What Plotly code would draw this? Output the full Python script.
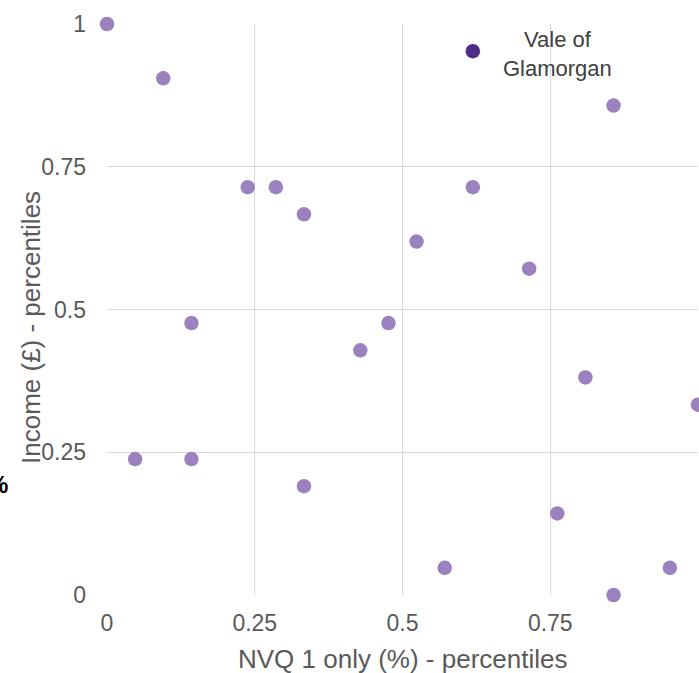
import plotly.graph_objects as go

# Percentile ranks of the 22 local authorities
nvq1_pct = [0.0, 0.0952, 0.2381, 0.2857, 0.3333, 0.1429, 0.0476, 0.1429, 0.3333,
            0.4286, 0.4762, 0.5238, 0.6190, 0.5714, 0.7143, 0.7619, 0.8095,
            0.8571, 0.8571, 0.9524, 1.0]
income_pct = [1.0, 0.9048, 0.7143, 0.7143, 0.6667, 0.4762, 0.2381, 0.2381, 0.1905,
              0.4286, 0.4762, 0.6190, 0.7143, 0.0476, 0.5714, 0.1429, 0.3810,
              0.8571, 0.0, 0.0476, 0.3333]

highlight_name = "Vale of<br>Glamorgan"
highlight_x = [0.6190]
highlight_y = [0.9524]

tick_vals = [0, 0.25, 0.5, 0.75, 1]
tick_text = ["0", "0.25", "0.5", "0.75", "1"]

x_title = "NVQ 1 only (%) - percentiles"
y_title = "Income (£) - percentiles"

FONT = "Arial, Liberation Sans, sans-serif"
PLOT_L, PLOT_W, PLOT_B, PLOT_H = 107, 591, 595, 571

fig = go.Figure()
fig.add_trace(go.Scatter(
    x=nvq1_pct, y=income_pct, mode="markers",
    marker=dict(size=14.5, color="#9a82bf"),
    cliponaxis=False, showlegend=False, hoverinfo="skip"))
fig.add_trace(go.Scatter(
    x=highlight_x, y=highlight_y, mode="markers",
    marker=dict(size=14.5, color="#4e2c89"),
    cliponaxis=False, showlegend=False, hoverinfo="skip"))

axis_common = dict(
    range=[0, 1], tickvals=tick_vals, ticktext=tick_text,
    showgrid=True, gridcolor="#d9d9d9", gridwidth=1.4,
    zeroline=False, showline=False, ticks="",
    tickfont=dict(family=FONT, size=23, color="#595959"),
)

annotations = [
    # label of the highlighted authority, centred block to the right of its marker
    dict(text=highlight_name, x=highlight_x[0], y=highlight_y[0], xref="x", yref="y",
         xanchor="left", yanchor="middle", align="center", showarrow=False,
         xshift=28, yshift=-3,
         font=dict(family=FONT, size=22, color="#404040")),
    # axis titles
    dict(text=x_title, xref="paper", yref="paper", x=0.5,
         y=(PLOT_B - 659) / PLOT_H, xanchor="center", yanchor="middle",
         showarrow=False, font=dict(family=FONT, size=26, color="#595959")),
    dict(text=y_title, xref="paper", yref="paper", x=(31 - PLOT_L) / PLOT_W,
         y=(PLOT_B - 328) / PLOT_H, xanchor="center", yanchor="middle",
         textangle=-90, showarrow=False,
         font=dict(family=FONT, size=26, color="#595959")),
    dict(text="<b>%</b>", xref="paper", yref="paper", x=(10 - PLOT_L) / PLOT_W,
         y=(PLOT_B - 484) / PLOT_H, xanchor="right", yanchor="middle",
         showarrow=False, font=dict(family=FONT, size=24, color="#000000")),
]

fig.update_layout(
    width=699, height=673,
    margin=dict(l=PLOT_L, r=1, t=24, b=78),
    paper_bgcolor="white", plot_bgcolor="white",
    xaxis=dict(**axis_common, ticklabelstandoff=12),
    yaxis=dict(**axis_common, ticklabelstandoff=20),
    annotations=annotations,
)

fig.write_html("out.html")
